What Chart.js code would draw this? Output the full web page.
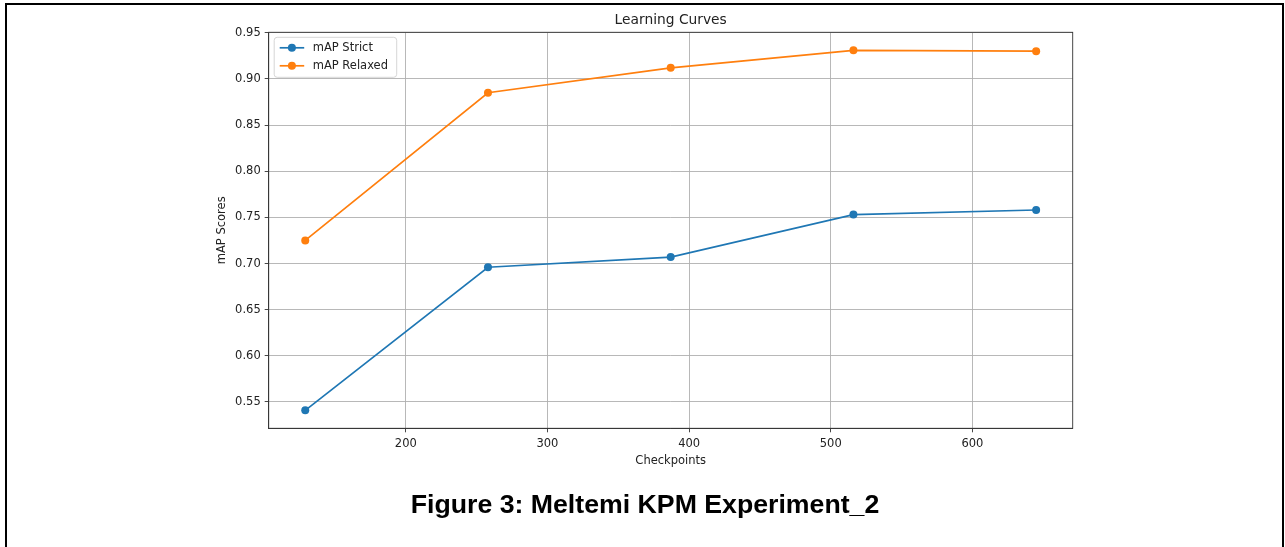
<!DOCTYPE html>
<html>
<head>
<meta charset="utf-8">
<script src="https://cdn.jsdelivr.net/npm/chart.js@4.4.1/dist/chart.umd.min.js"></script>
<style>
  html, body { margin: 0; padding: 0; background: #fff; }
  body { width: 1285px; height: 547px; position: relative; overflow: hidden; }
  #frame {
    position: absolute; left: 5px; top: 3px; width: 1275px; height: 600px;
    border: 2.5px solid #000; box-sizing: content-box;
  }
  #wrap { position: absolute; left: 0; top: 0; width: 1285px; height: 547px; }
  #caption {
    position: absolute; left: 0; width: 1290px; top: 489px; text-align: center;
    font-family: "Liberation Sans", Arial, sans-serif; font-weight: bold; font-size: 26.7px;
    color: #000;
  }
</style>
</head>
<body>
<div id="frame"></div>
<div id="wrap"><canvas id="curveChart" width="1285" height="547"></canvas></div>
<div id="caption">Figure 3: Meltemi KPM Experiment_2</div>
<script>
// Datos de la figura
const checkpoints = [129, 258, 387, 516, 645];
const mapStrict = [0.541, 0.696, 0.707, 0.753, 0.758];
const mapRelaxed = [0.725, 0.885, 0.912, 0.931, 0.930];
const xTicks = [200, 300, 400, 500, 600];
const yTicks = [0.55, 0.60, 0.65, 0.70, 0.75, 0.80, 0.85, 0.90, 0.95];
const chartTitle = "Learning Curves";

const FONT = "'DejaVu Sans', sans-serif";

// Título centrado sobre el área, marco del área y leyenda estilo matplotlib
const axesBoxPlugin = {
  id: "axesBox",
  afterDatasetsDraw(chart) {
    const { ctx, chartArea: a } = chart;
    ctx.save();
    ctx.strokeStyle = "#333";
    ctx.lineWidth = 0.9;
    ctx.strokeRect(a.left, a.top, a.right - a.left, a.bottom - a.top);

    // título
    ctx.fillStyle = "#222";
    ctx.font = "13.8px " + FONT;
    ctx.textAlign = "center";
    ctx.textBaseline = "alphabetic";
    ctx.fillText(chartTitle, (a.left + a.right) / 2, a.top - 8.5);

    // leyenda
    const lx = a.left + 5.5, ly = a.top + 5, lw = 122.5, lh = 40;
    ctx.globalAlpha = 0.8;
    ctx.fillStyle = "#fff";
    ctx.strokeStyle = "#ccc";
    ctx.lineWidth = 1;
    ctx.beginPath();
    ctx.roundRect(lx, ly, lw, lh, 3);
    ctx.fill();
    ctx.stroke();
    ctx.globalAlpha = 1;
    ctx.font = "11.5px " + FONT;
    ctx.textAlign = "left";
    ctx.textBaseline = "middle";
    chart.data.datasets.forEach((ds, i) => {
      const y = ly + 10.5 + i * 18;
      ctx.strokeStyle = ds.borderColor;
      ctx.lineWidth = 1.7;
      ctx.beginPath();
      ctx.moveTo(lx + 5.5, y);
      ctx.lineTo(lx + 30, y);
      ctx.stroke();
      ctx.fillStyle = ds.borderColor;
      ctx.beginPath();
      ctx.arc(lx + 17.7, y, 4, 0, Math.PI * 2);
      ctx.fill();
      ctx.fillStyle = "#222";
      ctx.fillText(ds.label, lx + 38.5, y);
    });
    ctx.restore();
  },
};

const ctx = document.getElementById("curveChart").getContext("2d");
new Chart(ctx, {
  type: "line",
  data: {
    datasets: [
      {
        label: "mAP Strict",
        data: checkpoints.map((x, i) => ({ x, y: mapStrict[i] })),
        borderColor: "#1f77b4",
        backgroundColor: "#1f77b4",
        borderWidth: 1.7,
        pointRadius: 4,
        pointBorderWidth: 0,
        tension: 0,
      },
      {
        label: "mAP Relaxed",
        data: checkpoints.map((x, i) => ({ x, y: mapRelaxed[i] })),
        borderColor: "#ff7f0e",
        backgroundColor: "#ff7f0e",
        borderWidth: 1.7,
        pointRadius: 4,
        pointBorderWidth: 0,
        tension: 0,
      },
    ],
  },
  options: {
    responsive: false,
    animation: false,
    devicePixelRatio: 1,
    layout: { padding: { left: 0, right: 212.3, top: 32.3, bottom: 0 } },
    plugins: {
      legend: { display: false },
      tooltip: { enabled: false },
      title: { display: false },
    },
    scales: {
      x: {
        type: "linear",
        min: 103.2,
        max: 670.8,
        afterBuildTicks: (s) => { s.ticks = xTicks.map((v) => ({ value: v })); },
        afterFit: (s) => { s.height = 118.7; },
        ticks: {
          color: "#222",
          font: { family: FONT, size: 11.5 },
          padding: 5,
          maxRotation: 0,
          callback: (v) => String(v),
        },
        grid: { color: "#b0b0b0", lineWidth: 0.9, tickColor: "#333", tickLength: 4 },
        border: { color: "#333", width: 0.9 },
        title: {
          display: true,
          text: "Checkpoints",
          color: "#222",
          font: { family: FONT, size: 11.5, lineHeight: 1.2 },
          padding: { top: 0, bottom: 79.5 },
        },
      },
      y: {
        type: "linear",
        min: 0.5215,
        max: 0.9505,
        afterBuildTicks: (s) => { s.ticks = yTicks.map((v) => ({ value: v })); },
        afterFit: (s) => { s.width = 268.7; },
        ticks: {
          color: "#222",
          font: { family: FONT, size: 11.5 },
          padding: 4,
          callback: (v) => v.toFixed(2),
        },
        grid: { color: "#b0b0b0", lineWidth: 0.9, tickColor: "#333", tickLength: 4 },
        border: { color: "#333", width: 0.9 },
        title: {
          display: true,
          text: "mAP Scores",
          color: "#222",
          font: { family: FONT, size: 11.5, lineHeight: 1.2 },
          padding: { top: 215.6, bottom: 0 },
        },
      },
    },
  },
  plugins: [axesBoxPlugin],
});
</script>
</body>
</html>
